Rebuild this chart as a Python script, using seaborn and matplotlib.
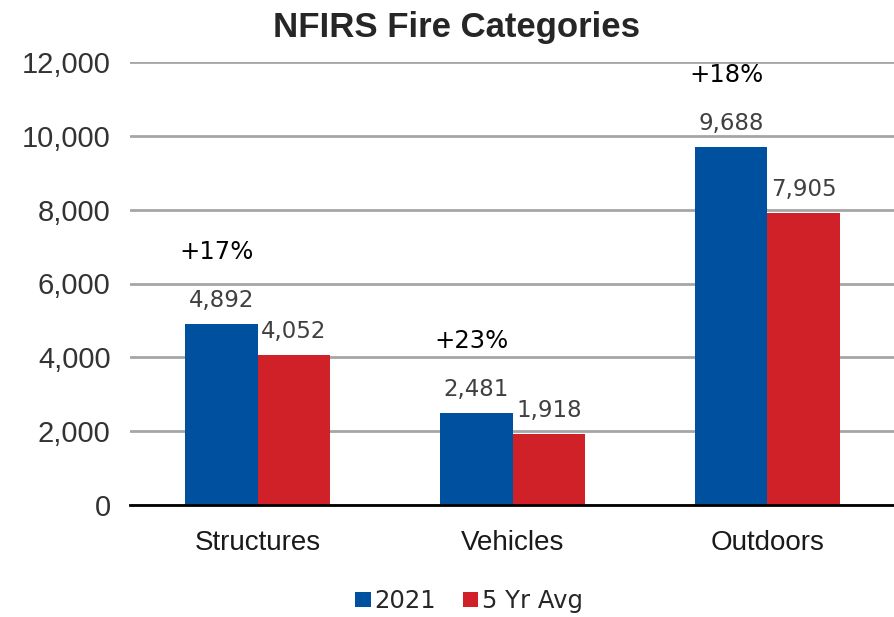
import pandas as pd
import matplotlib.pyplot as plt
import seaborn as sns
from matplotlib.ticker import FuncFormatter

# Data
categories = ['Structures', 'Vehicles', 'Outdoors']
series = ['2021', '5 Yr Avg']
values_2021 = [4892, 2481, 9688]
values_avg = [4052, 1918, 7905]
change_labels = ['+17%', '+23%', '+18%']

df = pd.DataFrame({
    'category': categories * 2,
    'series': [series[0]] * 3 + [series[1]] * 3,
    'count': values_2021 + values_avg,
})

sns.set_style('white')
plt.rcParams['font.family'] = ['Liberation Sans', 'DejaVu Sans']

fig = plt.figure(figsize=(8.95, 6.17), dpi=100)
ax = fig.add_axes([130 / 895, 1 - 505 / 617, 765 / 895, 443 / 617])

palette = {'2021': '#0050a0', '5 Yr Avg': '#d02028'}
sns.barplot(data=df, x='category', y='count', hue='series', order=categories,
            hue_order=series, palette=palette, width=0.57, saturation=1,
            linewidth=0, ax=ax, zorder=3, legend=True)

ax.set_ylim(0, 12000)
ax.set_xlim(-0.5, 2.5)
ax.set_yticks(range(0, 12001, 2000))
ax.yaxis.set_major_formatter(FuncFormatter(lambda v, p: f'{int(v):,}'))
ax.grid(axis='y', color='#a6a6a6', linewidth=2, zorder=0)
ax.set_axisbelow(True)
for s in ['top', 'right', 'left']:
    ax.spines[s].set_visible(False)
ax.spines['bottom'].set_color('black')
ax.spines['bottom'].set_linewidth(2)
ax.spines['bottom'].set_zorder(5)
ax.tick_params(axis='y', labelsize=21, colors='#333333', length=0, pad=14)
ax.tick_params(axis='x', labelsize=20, colors='#1a1a1a', length=0, pad=18)
ax.set_xlabel('')
ax.set_ylabel('')

# value labels
for cont in ax.containers:
    ax.bar_label(cont, labels=[f'{int(v):,}' for v in cont.datavalues],
                 fontsize=16.5, color='#404040', padding=9, family='DejaVu Sans')

# change labels
for i, (lab, v) in enumerate(zip(change_labels, values_2021)):
    ax.text(i - 0.16, v + 1950, lab, fontsize=17.5, color='black',
            ha='center', va='center', family='DejaVu Sans')

fig.text(457 / 895, 1 - 27 / 617, 'NFIRS Fire Categories', fontsize=25,
         fontweight='bold', ha='center', va='center')

handles, labels = ax.get_legend_handles_labels()
ax.get_legend().remove()
fig.legend(handles, labels, loc='center', bbox_to_anchor=(469 / 895, 1 - 601 / 617),
           ncol=2, frameon=False, prop={'family': 'DejaVu Sans', 'size': 17.5},
           handlelength=0.65, handleheight=0.6, handletextpad=0.15,
           columnspacing=1.1, borderpad=0)

plt.savefig('out.png', dpi=100)
